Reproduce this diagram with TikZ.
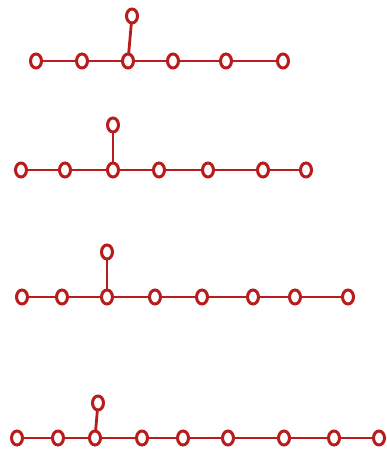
\documentclass[tikz,border=0pt]{standalone}
\usetikzlibrary{shapes.geometric}
\definecolor{ink}{RGB}{185,28,28}
\begin{document}
\begin{tikzpicture}[x=1pt,y=-1pt,
  vert/.style={ellipse,draw=ink,fill=white,line width=3pt,minimum width=11pt,minimum height=14pt,inner sep=0pt},
  edge/.style={draw=ink,line width=2.8pt,line cap=round}]
\useasboundingbox[fill=white] (0,0) rectangle (386,457);
% Row 1
\foreach \n/\x in {1/36,2/82,3/128,4/173,5/226,6/283}{\node[vert] (a\n) at (\x,61) {};}
\node[vert] (at) at (132,16) {};
% Row 2
\foreach \n/\x in {1/21,2/65,3/113,4/159,5/208,6/263,7/306}{\node[vert] (b\n) at (\x,170) {};}
\node[vert] (bt) at (113,125) {};
% Row 3
\foreach \n/\x in {1/22,2/62,3/107,4/155,5/202,6/253,7/295,8/348}{\node[vert] (c\n) at (\x,297) {};}
\node[vert] (ct) at (107,252) {};
% Row 4
\foreach \n/\x in {1/17,2/58,3/95,4/142,5/183,6/228,7/284,8/334,9/379}{\node[vert] (d\n) at (\x,438) {};}
\node[vert] (dt) at (98,403) {};
% edges
\draw[edge] (a1)--(a2); \draw[edge] (a2)--(a3); \draw[edge] (a3)--(a4); \draw[edge] (a4)--(a5); \draw[edge] (a5)--(a6); \draw[edge] (a3)--(at);
\draw[edge] (b1)--(b2); \draw[edge] (b2)--(b3); \draw[edge] (b3)--(b4); \draw[edge] (b4)--(b5); \draw[edge] (b5)--(b6); \draw[edge] (b6)--(b7); \draw[edge] (b3)--(bt);
\draw[edge] (c1)--(c2); \draw[edge] (c2)--(c3); \draw[edge] (c3)--(c4); \draw[edge] (c4)--(c5); \draw[edge] (c5)--(c6); \draw[edge] (c6)--(c7); \draw[edge] (c7)--(c8); \draw[edge] (c3)--(ct);
\draw[edge] (d1)--(d2); \draw[edge] (d2)--(d3); \draw[edge] (d3)--(d4); \draw[edge] (d4)--(d5); \draw[edge] (d5)--(d6); \draw[edge] (d6)--(d7); \draw[edge] (d7)--(d8); \draw[edge] (d8)--(d9); \draw[edge] (d3)--(dt);
\end{tikzpicture}
\end{document}
